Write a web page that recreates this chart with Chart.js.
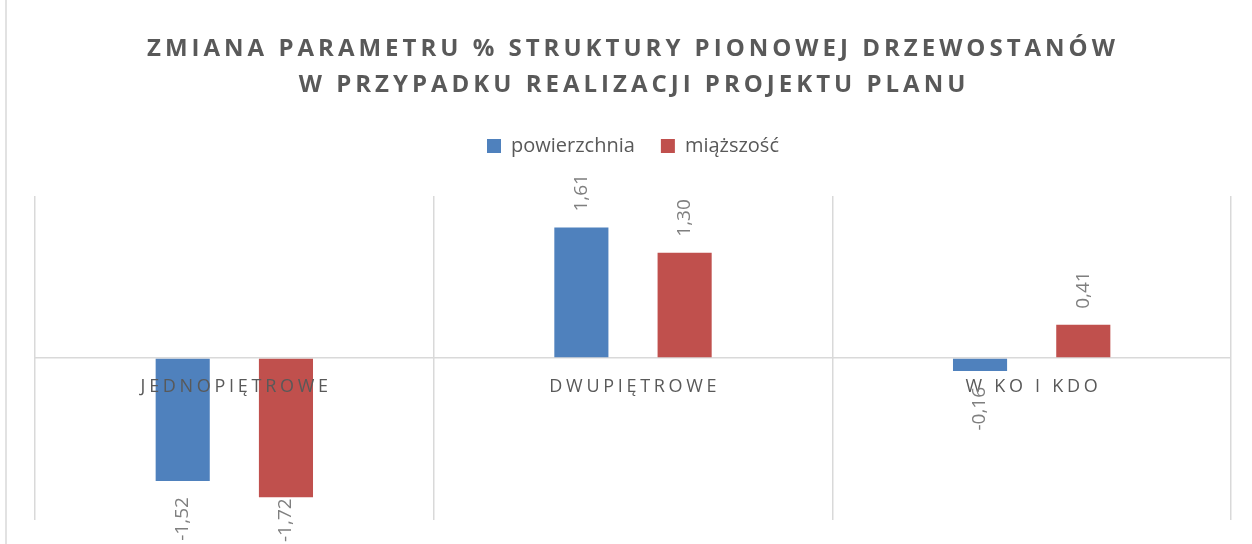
<!DOCTYPE html>
<html>
<head>
<meta charset="utf-8">
<script src="https://cdn.jsdelivr.net/npm/chart.js@4"></script>
<style>
  html, body { margin: 0; padding: 0; background: #fff; }
  #wrap { width: 1252px; height: 544px; position: relative; }
</style>
</head>
<body>
<div id="wrap"><canvas id="chart"></canvas></div>
<script>
const titleLines = ['ZMIANA PARAMETRU % STRUKTURY PIONOWEJ DRZEWOSTANÓW', 'W PRZYPADKU REALIZACJI PROJEKTU PLANU'];
const categories = ['JEDNOPIĘTROWE', 'DWUPIĘTROWE', 'W KO I KDO'];
const seriesNames = ['powierzchnia', 'miąższość'];
const powierzchnia = [-1.52, 1.61, -0.16];
const miazszosc = [-1.72, 1.30, 0.41];
const colors = ['#4F81BD', '#C0504D'];

const textGray = '#595959';
const gridGray = '#d9d9d9';

function fmt(v) {
    return v.toFixed(2).replace('.', ',');
}

// title, category names under zero line, rotated value labels, left frame line
const decorPlugin = {
    id: 'decor',
    beforeDraw(chart) {
        const ctx = chart.ctx;
        ctx.save();
        ctx.strokeStyle = gridGray;
        ctx.lineWidth = 1.5;
        ctx.beginPath();
        ctx.moveTo(6, 0);
        ctx.lineTo(6, chart.height);
        ctx.stroke();

        ctx.fillStyle = textGray;
        ctx.font = 'bold 24px "Open Sans"';
        ctx.letterSpacing = '4px';
        ctx.textAlign = 'center';
        ctx.textBaseline = 'middle';
        ctx.fillText(titleLines[0], 631 + 2, 49);
        ctx.fillText(titleLines[1], 632 + 2, 85);
        ctx.restore();
    },
    afterDatasetsDraw(chart) {
        const ctx = chart.ctx;
        const xs = chart.scales.x;
        const ys = chart.scales.y;
        const zeroY = ys.getPixelForValue(0);

        ctx.save();
        ctx.fillStyle = textGray;
        ctx.font = '18px "Open Sans"';
        ctx.letterSpacing = '3.7px';
        ctx.textAlign = 'center';
        ctx.textBaseline = 'middle';
        categories.forEach((c, i) => {
            ctx.fillText(c, xs.getPixelForValue(i) + 1.8, zeroY + 29);
        });
        ctx.restore();

        // value labels, rotated; kept inside the canvas like Excel does
        ctx.save();
        ctx.fillStyle = '#7f7f7f';
        ctx.font = '19px "Open Sans"';
        ctx.textBaseline = 'middle';
        chart.data.datasets.forEach((ds, di) => {
            const meta = chart.getDatasetMeta(di);
            meta.data.forEach((bar, i) => {
                const v = ds.data[i];
                const txt = fmt(v);
                const w = ctx.measureText(txt).width;
                let off = 16;
                if (v < 0 && bar.y + off + w > chart.height - 2) {
                    off = chart.height - 2 - w - bar.y;
                }
                ctx.save();
                ctx.translate(bar.x, bar.y);
                ctx.rotate(-Math.PI / 2);
                if (v >= 0) {
                    ctx.textAlign = 'left';
                    ctx.fillText(txt, off, 0);
                } else {
                    ctx.textAlign = 'right';
                    ctx.fillText(txt, -off, 0);
                }
                ctx.restore();
            });
        });
        ctx.restore();
    }
};

new Chart(document.getElementById('chart'), {
    type: 'bar',
    data: {
        labels: categories,
        datasets: [
            { label: seriesNames[0], data: powierzchnia, backgroundColor: colors[0] },
            { label: seriesNames[1], data: miazszosc, backgroundColor: colors[1] }
        ]
    },
    options: {
        responsive: true,
        maintainAspectRatio: false,
        animation: false,
        categoryPercentage: 0.518,
        barPercentage: 0.524,
        layout: {
            padding: { left: 35, right: 21, top: 110, bottom: 24 }
        },
        plugins: {
            legend: {
                position: 'top',
                labels: {
                    boxWidth: 14,
                    boxHeight: 14,
                    padding: 26,
                    color: textGray,
                    font: { family: 'Open Sans', size: 20 }
                }
            },
            tooltip: { enabled: false }
        },
        scales: {
            x: {
                grid: {
                    offset: true,
                    color: gridGray,
                    lineWidth: 1.5,
                    drawTicks: false
                },
                border: { display: false },
                ticks: { display: false }
            },
            // empty top axis, only keeps the gap between legend and plot
            xGap: {
                type: 'category',
                position: 'top',
                grid: { display: false },
                border: { display: false },
                ticks: { display: false },
                afterFit: s => { s.height = 30; }
            },
            y: {
                min: -2,
                max: 2,
                grid: {
                    color: ctx => ctx.tick && ctx.tick.value === 0 ? gridGray : 'rgba(0,0,0,0)',
                    lineWidth: 1.5,
                    drawTicks: false
                },
                border: { display: false },
                ticks: { display: false, stepSize: 1 }
            }
        }
    },
    plugins: [decorPlugin]
});
</script>
</body>
</html>
